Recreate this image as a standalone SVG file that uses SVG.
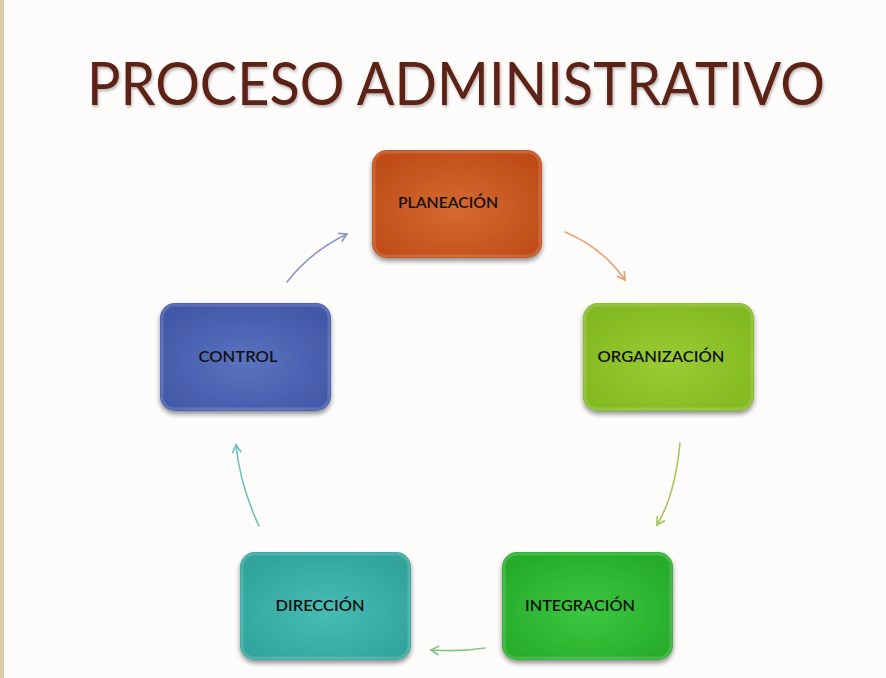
<svg xmlns="http://www.w3.org/2000/svg" width="886" height="678" viewBox="0 0 886 678">
<defs>
<style>
.lbl{font-family:"Gill Sans",Lato,"Liberation Sans","DejaVu Sans",sans-serif;font-size:15px;font-weight:600;fill:#111;}
.title{font-family:"Gill Sans",Lato,"Liberation Sans","DejaVu Sans",sans-serif;font-size:60px;fill:#5b2419;}
.conn{fill:none;stroke-width:1.6;stroke-linecap:round;}
.box{filter:url(#sh);}
.bev{fill:none;stroke:#fff;stroke-opacity:0.15;stroke-width:3;}
</style>
<filter id="sh" x="-10%" y="-10%" width="120%" height="130%">
<feGaussianBlur in="SourceAlpha" stdDeviation="2.5"/>
<feOffset dy="3" result="b"/>
<feComponentTransfer><feFuncA type="linear" slope="0.45"/></feComponentTransfer>
<feMerge><feMergeNode/><feMergeNode in="SourceGraphic"/></feMerge>
</filter>
<filter id="tsh" x="-5%" y="-20%" width="110%" height="150%">
<feGaussianBlur in="SourceAlpha" stdDeviation="1.5"/>
<feOffset dx="1" dy="2"/>
<feComponentTransfer><feFuncA type="linear" slope="0.3"/></feComponentTransfer>
<feMerge><feMergeNode/><feMergeNode in="SourceGraphic"/></feMerge>
</filter>
<radialGradient id="gO" cx="0.5" cy="0.55" r="0.6"><stop offset="0" stop-color="#d66a32"/><stop offset="1" stop-color="#bf4c18"/></radialGradient>
<radialGradient id="gB" cx="0.5" cy="0.55" r="0.6"><stop offset="0" stop-color="#5a73c0"/><stop offset="1" stop-color="#4258a8"/></radialGradient>
<radialGradient id="gY" cx="0.5" cy="0.55" r="0.6"><stop offset="0" stop-color="#9acc34"/><stop offset="1" stop-color="#82b820"/></radialGradient>
<radialGradient id="gG" cx="0.5" cy="0.55" r="0.6"><stop offset="0" stop-color="#3cc640"/><stop offset="1" stop-color="#26ac2a"/></radialGradient>
<radialGradient id="gT" cx="0.5" cy="0.55" r="0.6"><stop offset="0" stop-color="#48bcb4"/><stop offset="1" stop-color="#30a49c"/></radialGradient>
<marker id="aO" viewBox="0 0 10 10" refX="8" refY="5" markerWidth="7" markerHeight="7" orient="auto"><path d="M1,1 L8,5 L1,9" fill="none" stroke="#e2a47a" stroke-width="1.5"/></marker>
<marker id="aY" viewBox="0 0 10 10" refX="8" refY="5" markerWidth="7" markerHeight="7" orient="auto"><path d="M1,1 L8,5 L1,9" fill="none" stroke="#a2c85a" stroke-width="1.5"/></marker>
<marker id="aG" viewBox="0 0 10 10" refX="8" refY="5" markerWidth="7" markerHeight="7" orient="auto"><path d="M1,1 L8,5 L1,9" fill="none" stroke="#86c486" stroke-width="1.5"/></marker>
<marker id="aT" viewBox="0 0 10 10" refX="8" refY="5" markerWidth="7" markerHeight="7" orient="auto"><path d="M1,1 L8,5 L1,9" fill="none" stroke="#6ec2ba" stroke-width="1.5"/></marker>
<marker id="aB" viewBox="0 0 10 10" refX="8" refY="5" markerWidth="7" markerHeight="7" orient="auto"><path d="M1,1 L8,5 L1,9" fill="none" stroke="#8a98c6" stroke-width="1.5"/></marker>
</defs>
<rect width="886" height="678" fill="#fefcfb"/>
<rect x="0" y="0" width="4" height="678" fill="#dccbaa"/>
<text class="title" x="456" y="105" text-anchor="middle" textLength="738" lengthAdjust="spacingAndGlyphs" filter="url(#tsh)">PROCESO ADMINISTRATIVO</text>

<g id="connectors">
<path class="conn" stroke="#e2a47a" d="M565,232 Q603,248 625,280" marker-end="url(#aO)"/>
<path class="conn" stroke="#a2c85a" d="M680,443 Q675,495 657,525" marker-end="url(#aY)"/>
<path class="conn" stroke="#86c486" d="M485,648 Q460,652 431,650" marker-end="url(#aG)"/>
<path class="conn" stroke="#6ec2ba" d="M259,526 Q240,485 236,445" marker-end="url(#aT)"/>
<path class="conn" stroke="#8a98c6" d="M287,282 Q310,252 347,234" marker-end="url(#aB)"/>
</g>

<g id="planeacion">
<rect class="box" x="372" y="150" width="170" height="108" rx="15" fill="url(#gO)"/>
<rect class="bev" x="374" y="152" width="166" height="104" rx="13"/>
<text class="lbl" x="448" y="208" text-anchor="middle" textLength="100" lengthAdjust="spacingAndGlyphs">PLANEACIÓN</text>
</g>
<g id="organizacion">
<rect class="box" x="583" y="303" width="171" height="108" rx="15" fill="url(#gY)"/>
<rect class="bev" x="585" y="305" width="167" height="104" rx="13"/>
<text class="lbl" x="661" y="362" text-anchor="middle" textLength="127" lengthAdjust="spacingAndGlyphs">ORGANIZACIÓN</text>
</g>
<g id="integracion">
<rect class="box" x="502" y="552" width="171" height="108" rx="15" fill="url(#gG)"/>
<rect class="bev" x="504" y="554" width="167" height="104" rx="13"/>
<text class="lbl" x="580" y="611" text-anchor="middle" textLength="110" lengthAdjust="spacingAndGlyphs">INTEGRACIÓN</text>
</g>
<g id="direccion">
<rect class="box" x="240" y="552" width="171" height="108" rx="15" fill="url(#gT)"/>
<rect class="bev" x="242" y="554" width="167" height="104" rx="13"/>
<text class="lbl" x="320" y="611" text-anchor="middle" textLength="89" lengthAdjust="spacingAndGlyphs">DIRECCIÓN</text>
</g>
<g id="control">
<rect class="box" x="160" y="303" width="171" height="108" rx="15" fill="url(#gB)"/>
<rect class="bev" x="162" y="305" width="167" height="104" rx="13"/>
<text class="lbl" x="238" y="362" text-anchor="middle" textLength="79" lengthAdjust="spacingAndGlyphs">CONTROL</text>
</g>
</svg>
